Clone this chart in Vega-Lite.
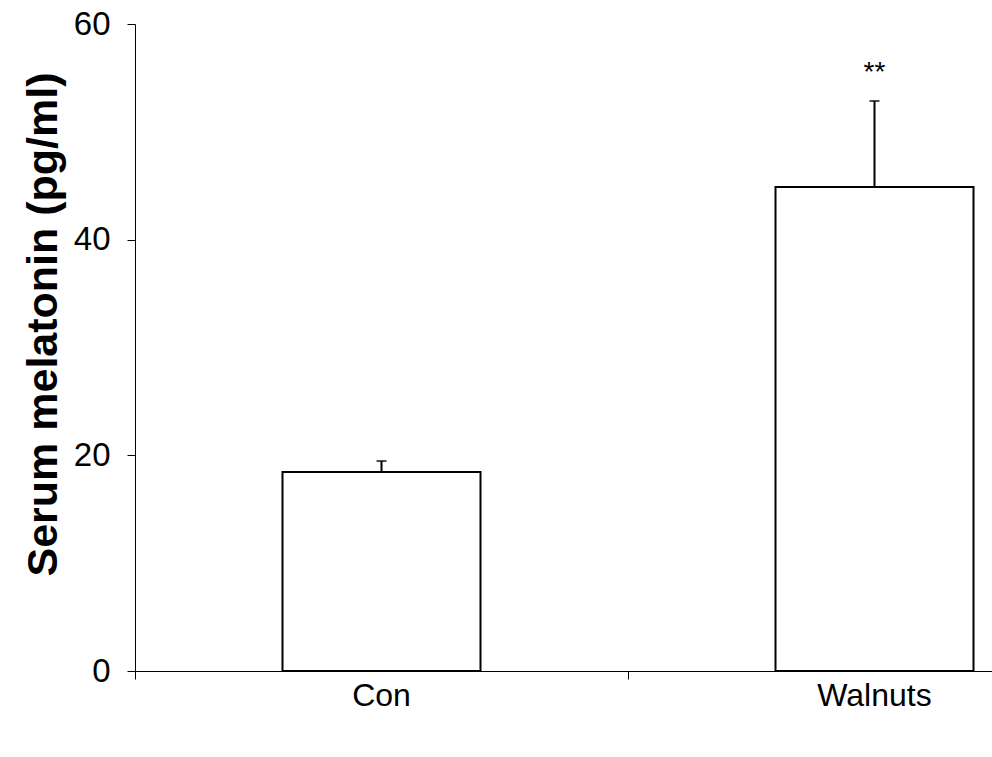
{
  "$schema": "https://vega.github.io/schema/vega-lite/v6.json",
  "width": 857,
  "height": 647,
  "autosize": "none",
  "padding": {"left": 135, "top": 24, "right": 0, "bottom": 86},
  "background": "white",
  "config": {
    "view": {"stroke": null},
    "font": "Liberation Sans",
    "axis": {"grid": false, "domainColor": "#000", "tickColor": "#000", "labelColor": "#000", "titleColor": "#000", "domainWidth": 1, "tickWidth": 1}
  },
  "data": {
    "values": [
      {"group": "Con", "mean": 18.45, "upper": 19.47, "sig": ""},
      {"group": "Walnuts", "mean": 44.88, "upper": 52.86, "sig": "**"}
    ]
  },
  "encoding": {
    "x": {
      "field": "group",
      "type": "nominal",
      "sort": null,
      "scale": {"type": "band", "range": [0, 986], "paddingInner": 0, "paddingOuter": 0},
      "axis": {
        "title": null,
        "bandPosition": 0,
        "tickSize": 8,
        "labelFontSize": 32,
        "labelPadding": 1,
        "labelAngle": 0,
        "labelBaseline": "top"
      }
    }
  },
  "layer": [
    {
      "mark": {"type": "bar", "fill": "white", "stroke": "black", "strokeWidth": 2, "width": 198},
      "encoding": {
        "y": {
          "field": "mean",
          "type": "quantitative",
          "scale": {"domain": [0, 60], "nice": false, "zero": true},
          "axis": {
            "title": "Serum melatonin (pg/ml)",
            "values": [0, 20, 40, 60],
            "tickSize": 8,
            "labelFontSize": 33,
            "labelPadding": 17,
            "labelFlush": false,
            "labelOverlap": false,
            "titleFontSize": 43,
            "titleFontWeight": "bold",
            "titleAngle": -90,
            "titleAlign": "center",
            "titleBaseline": "middle",
            "titleX": -92,
            "titleY": 300
          }
        }
      }
    },
    {
      "mark": {"type": "rule", "strokeWidth": 2, "color": "black"},
      "encoding": {
        "y": {"field": "mean", "type": "quantitative"},
        "y2": {"field": "upper"}
      }
    },
    {
      "mark": {"type": "tick", "orient": "horizontal", "size": 10, "thickness": 2, "color": "black"},
      "encoding": {
        "y": {"field": "upper", "type": "quantitative"}
      }
    },
    {
      "mark": {"type": "text", "fontSize": 28, "baseline": "middle", "align": "center", "dy": -28, "color": "black"},
      "encoding": {
        "y": {"field": "upper", "type": "quantitative"},
        "text": {"field": "sig"}
      }
    }
  ]
}
